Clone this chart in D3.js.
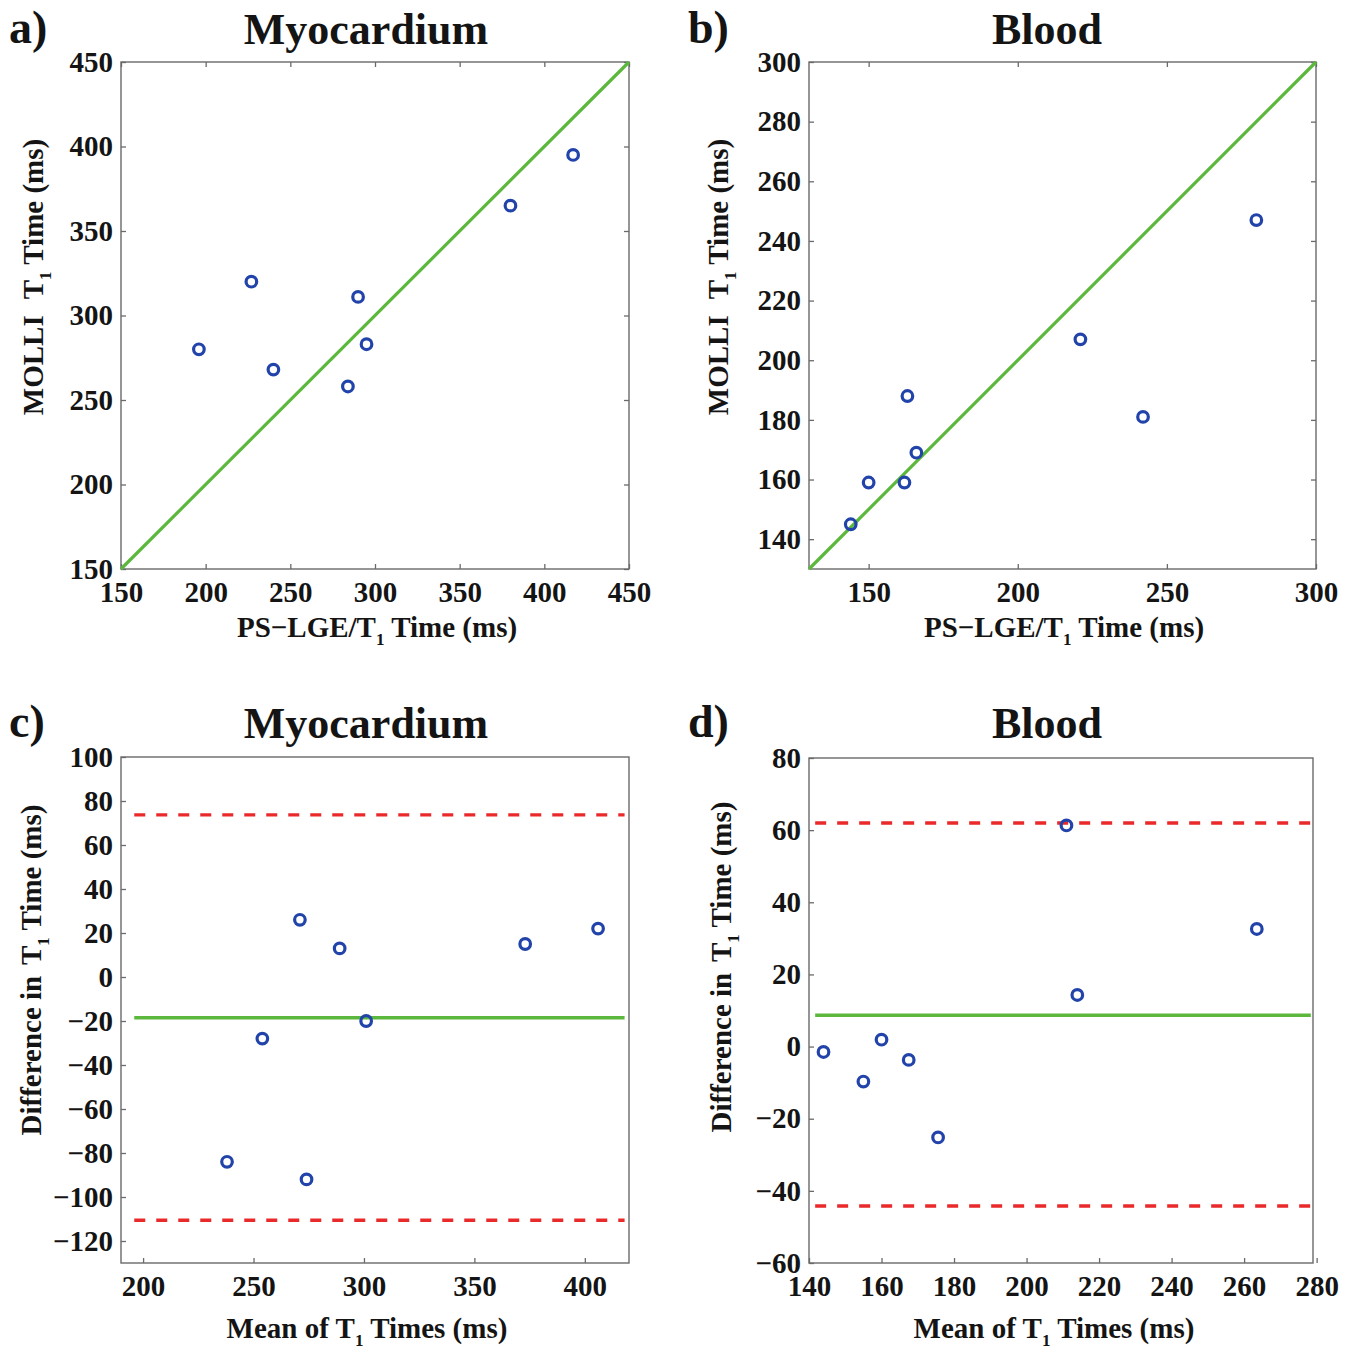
<!DOCTYPE html>
<html>
<head>
<meta charset="utf-8">
<script src="https://d3js.org/d3.v7.min.js"></script>
<style>
  body { margin: 0; background: #ffffff; }
  text { font-family: "Liberation Serif", "Times New Roman", serif; font-weight: bold; fill: #141414; }
</style>
</head>
<body>
<div id="chart"></div>
<script>

// ---- data ----
// a) myocardium, PS-LGE/T1 vs MOLLI T1 (ms)
var myoLGE   = [196, 227, 240, 284, 290, 295, 380, 417];
var myoMOLLI = [280, 320, 268, 258, 311, 283, 365, 395];
var myoIdentity = [150, 450];

// b) blood
var bloodLGE   = [144, 150, 162, 163, 166, 221, 242, 280];
var bloodMOLLI = [145, 159, 159, 188, 169, 207, 181, 247];
var bloodIdentity = [130, 300];

// c) Bland-Altman myocardium
var myoMean = [238, 254, 271, 274, 289, 301, 373, 406];
var myoDiff = [-84, -28, 26, -92, 13, -20, 15, 22];
var myoBias = -18.5;
var myoLimits = [-110.6, 73.7];
var myoLineSpan = [196, 418];

// d) Bland-Altman blood
var bloodMean = [144, 155, 160, 167.5, 175.6, 211, 214, 263.5];
var bloodDiff = [-1.5, -9.7, 1.9, -3.7, -25.2, 61.3, 14.3, 32.6];
var bloodBias = 8.7;
var bloodLimits = [-44.2, 62.0];
var bloodLineSpan = [141.7, 278.4];

// tick values
var ticksA = [150, 200, 250, 300, 350, 400, 450];
var ticksBx = [150, 200, 250, 300];
var ticksBy = [140, 160, 180, 200, 220, 240, 260, 280, 300];
var ticksCx = [200, 250, 300, 350, 400];
var ticksCy = [-120, -100, -80, -60, -40, -20, 0, 20, 40, 60, 80, 100];
var ticksDx = [140, 160, 180, 200, 220, 240, 260, 280];
var ticksDy = [-60, -40, -20, 0, 20, 40, 60, 80];

var blue = "#2244aa", green = "#5bb83c", red = "#ea2a2a", axisColor = "#6a6a6a";

var svg = d3.select("#chart").append("svg")
    .attr("width", 1360)
    .attr("height", 1349);

// label text with a subscript "1" after the T
function labelWithSub(g, before, after, gap) {
  var t = g.append("text").attr("text-anchor", "middle").style("font-size", "29px");
  t.append("tspan").text(before[0]);
  t.append("tspan").text(before[1]).attr("dx", gap || 0);
  t.append("tspan").text("1").style("font-size", "17px").attr("dy", 8);
  t.append("tspan").text(after).attr("dy", -8);
  return t;
}

function drawPanel(p) {
  var x = d3.scaleLinear().domain(p.xDomain).range([p.left, p.right]);
  var y = d3.scaleLinear().domain(p.yDomain).range([p.bottom, p.top]);
  var fmt = d3.format("d");

  var g = svg.append("g");

  // bottom + left axes, ticks pointing inward
  g.append("g")
      .attr("transform", "translate(0," + p.bottom + ")")
      .call(d3.axisBottom(x).tickValues(p.xTicks).tickSize(-5).tickSizeOuter(0).tickPadding(12).tickFormat(fmt));
  g.append("g")
      .attr("transform", "translate(" + p.left + ",0)")
      .call(d3.axisLeft(y).tickValues(p.yTicks).tickSize(-5).tickSizeOuter(0).tickPadding(8).tickFormat(fmt));

  if (p.mirror) {
    g.append("g")
      .attr("transform", "translate(0," + p.top + ")")
      .call(d3.axisTop(x).tickValues(p.xTicks).tickSize(-5).tickSizeOuter(0).tickFormat(""));
    g.append("g")
      .attr("transform", "translate(" + p.right + ",0)")
      .call(d3.axisRight(y).tickValues(p.yTicks).tickSize(-5).tickSizeOuter(0).tickFormat(""));
  }

  g.selectAll(".domain").remove();
  g.selectAll(".tick line").attr("stroke", axisColor).attr("stroke-width", 1.3);
  g.selectAll(".tick text").style("font-size", "29px").attr("fill", "#141414");

  // box
  g.append("rect")
      .attr("x", p.left).attr("y", p.top)
      .attr("width", p.right - p.left).attr("height", p.bottom - p.top)
      .attr("fill", "none").attr("stroke", axisColor).attr("stroke-width", 1.4);

  var line = d3.line().x(function(d) { return x(d[0]); }).y(function(d) { return y(d[1]); });

  if (p.identity) {
    g.append("path")
        .datum(p.identity.map(function(v) { return [v, v]; }))
        .attr("d", line)
        .attr("fill", "none").attr("stroke", green).attr("stroke-width", 3.2);
  }

  if (p.bias !== undefined) {
    g.append("path")
        .datum(p.span.map(function(v) { return [v, p.bias]; }))
        .attr("d", line)
        .attr("fill", "none").attr("stroke", green).attr("stroke-width", 3.4);
    p.limits.forEach(function(l) {
      g.append("path")
          .datum(p.span.map(function(v) { return [v, l]; }))
          .attr("d", line)
          .attr("fill", "none").attr("stroke", red).attr("stroke-width", 3.4)
          .attr("stroke-dasharray", "11,11");
    });
  }

  // points
  g.append("g").selectAll("circle")
      .data(p.xs.map(function(v, i) { return [v, p.ys[i]]; }))
    .enter().append("circle")
      .attr("cx", function(d) { return x(d[0]); })
      .attr("cy", function(d) { return y(d[1]); })
      .attr("r", 5.3)
      .attr("fill", "none")
      .attr("stroke", blue)
      .attr("stroke-width", 3.2);

  // panel letter and title
  g.append("text")
      .attr("x", p.letterX).attr("y", p.titleY - 1)
      .style("font-size", "46px")
      .text(p.letter);
  g.append("text")
      .attr("x", p.titleX).attr("y", p.titleY)
      .attr("text-anchor", "middle")
      .style("font-size", "44px")
      .text(p.title);

  // axis labels
  labelWithSub(g, p.xLabel[0], p.xLabel[1], 0)
      .attr("x", p.xLabelX).attr("y", p.xLabelY);
  labelWithSub(g, p.yLabel[0], p.yLabel[1], p.yGap)
      .attr("transform", "translate(" + p.yLabelX + "," + p.yLabelY + ") rotate(-90)");
}

drawPanel({
  letter: "a)", title: "Myocardium",
  left: 121, right: 629, top: 62, bottom: 569,
  xDomain: [150, 450], yDomain: [150, 450],
  xTicks: ticksA, yTicks: ticksA, mirror: true,
  xs: myoLGE, ys: myoMOLLI, identity: myoIdentity,
  letterX: 9, titleX: 366, titleY: 44,
  xLabel: [["PS\u2212LGE/", "T"], " Time (ms)"], xLabelX: 377, xLabelY: 637,
  yLabel: [["MOLLI", "T"], " Time (ms)"], yGap: 16, yLabelX: 43, yLabelY: 277
});

drawPanel({
  letter: "b)", title: "Blood",
  left: 809, right: 1316, top: 62, bottom: 569,
  xDomain: [130, 300], yDomain: [130, 300],
  xTicks: ticksBx, yTicks: ticksBy, mirror: true,
  xs: bloodLGE, ys: bloodMOLLI, identity: bloodIdentity,
  letterX: 688, titleX: 1047, titleY: 44,
  xLabel: [["PS\u2212LGE/", "T"], " Time (ms)"], xLabelX: 1064, xLabelY: 637,
  yLabel: [["MOLLI", "T"], " Time (ms)"], yGap: 16, yLabelX: 728, yLabelY: 277
});

drawPanel({
  letter: "c)", title: "Myocardium",
  left: 121, right: 629, top: 757, bottom: 1263,
  xDomain: [190, 420], yDomain: [-130, 100],
  xTicks: ticksCx, yTicks: ticksCy, mirror: false,
  xs: myoMean, ys: myoDiff,
  bias: myoBias, limits: myoLimits, span: myoLineSpan,
  letterX: 9, titleX: 366, titleY: 738,
  xLabel: [["Mean of ", "T"], " Times (ms)"], xLabelX: 367, xLabelY: 1338,
  yLabel: [["Difference in ", "T"], " Time (ms)"], yGap: 4, yLabelX: 41, yLabelY: 970
});

drawPanel({
  letter: "d)", title: "Blood",
  left: 809, right: 1313, top: 758, bottom: 1263,
  xDomain: [140, 279], yDomain: [-60, 80],
  xTicks: ticksDx, yTicks: ticksDy, mirror: false,
  xs: bloodMean, ys: bloodDiff,
  bias: bloodBias, limits: bloodLimits, span: bloodLineSpan,
  letterX: 688, titleX: 1047, titleY: 738,
  xLabel: [["Mean of ", "T"], " Times (ms)"], xLabelX: 1054, xLabelY: 1338,
  yLabel: [["Difference in ", "T"], " Time (ms)"], yGap: 4, yLabelX: 731, yLabelY: 967
});

</script>
</body>
</html>
